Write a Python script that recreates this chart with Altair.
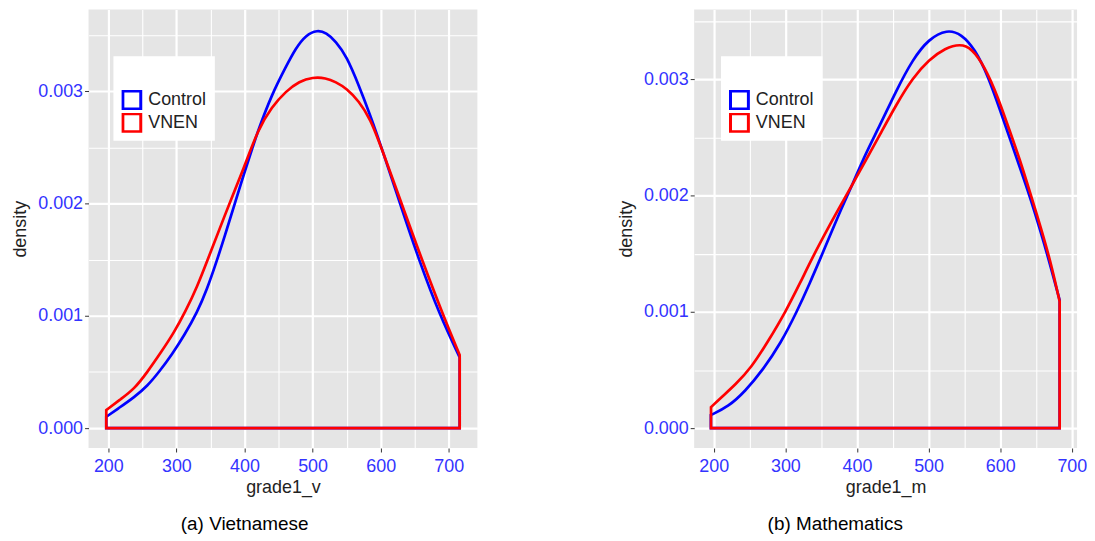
import altair as alt
import pandas as pd

# ---------------- data ----------------
groups = ["Control", "VNEN"]
colors = ["#0000ff", "#ff0000"]

# (a) Vietnamese  (density values in units of 1e-3)
viet_ctrl_x = [197, 213.6, 238, 257.5, 274.6, 294, 311, 330.6, 345.2, 358.9, 372, 382.7, 400, 412, 420,
               440, 461, 475, 490, 507, 520, 534, 550, 568, 585, 600, 632, 656, 687, 716]
viet_ctrl_d = [0.10, 0.171, 0.274, 0.376, 0.50, 0.66, 0.82, 1.03, 1.24, 1.48, 1.73, 1.94, 2.28, 2.50, 2.65,
               2.97, 3.22, 3.38, 3.50, 3.545, 3.52, 3.445, 3.31, 3.05, 2.78, 2.52, 1.935, 1.50, 1.00, 0.63]
viet_vnen_x = [197, 218.5, 238, 257.5, 277, 296.5, 313.5, 330.6, 346, 370, 400, 420, 440, 461, 480.5,
               500, 519.5, 534, 550, 568, 585, 600, 636.6, 660.5, 692, 716]
viet_vnen_d = [0.16, 0.259, 0.347, 0.50, 0.671, 0.85, 1.04, 1.26, 1.50, 1.88, 2.33, 2.66, 2.86, 3.00,
               3.088, 3.124, 3.118, 3.082, 3.024, 2.912, 2.75, 2.515, 1.90, 1.50, 1.00, 0.65]

# (b) Mathematics
math_ctrl_x = [196, 220.7, 243.5, 268.5, 293.5, 316, 334.4, 350.3, 364, 377.5, 394, 412, 431.7, 454.6,
               477.5, 500.5, 525.7, 546, 564.7, 583, 600, 613, 627, 641, 656, 670, 683]
math_ctrl_d = [0.112, 0.186, 0.314, 0.50, 0.729, 1.00, 1.25, 1.48, 1.68, 1.88, 2.10, 2.36, 2.60, 2.90,
               3.17, 3.35, 3.43, 3.39, 3.26, 3.03, 2.73, 2.50, 2.25, 2.00, 1.70, 1.40, 1.10]
math_vnen_x = [196.2, 211.6, 229.8, 252.5, 275.3, 300.3, 320.7, 338.9, 357, 373, 394, 412, 431.7, 454.6,
               477.5, 500.5, 523.4, 544, 560, 578.4, 596.8, 613, 627, 643, 656, 670, 683]
math_vnen_d = [0.18, 0.271, 0.371, 0.52, 0.74, 1.00, 1.25, 1.48, 1.69, 1.871, 2.10, 2.30, 2.52, 2.78,
               3.01, 3.17, 3.27, 3.305, 3.27, 3.11, 2.85, 2.56, 2.32, 2.00, 1.74, 1.44, 1.09]

x_ticks = [200, 250, 300, 350, 400, 450, 500, 550, 600, 650, 700]
y_ticks = [0, 0.0005, 0.001, 0.0015, 0.002, 0.0025, 0.003, 0.0035]

FONT = "Liberation Sans"
LABEL_COLOR = "#3333ff"
TITLE_COLOR = "#222222"


def frame(xs_c, ds_c, xs_v, ds_v):
    rows = []
    for x, d in zip(xs_c, ds_c):
        rows.append({"x": x, "d": d / 1000.0, "group": groups[0]})
    for x, d in zip(xs_v, ds_v):
        rows.append({"x": x, "d": d / 1000.0, "group": groups[1]})
    return pd.DataFrame(rows)


def panel(df, xtitle, caption, xdom, ydom, w, h, lx, ly, cap_dx):
    x_axis = alt.Axis(
        values=x_ticks, title=xtitle, domain=False,
        labelExpr="datum.value % 100 == 0 ? datum.label : ''",
        gridColor="white",
        gridWidth={"condition": {"test": "datum.value % 100 == 0", "value": 2.2}, "value": 1.1},
        tickColor={"condition": {"test": "datum.value % 100 == 0", "value": "#333333"}, "value": "transparent"},
        tickSize=4, tickWidth=1,
        labelFont=FONT, labelFontSize=18, labelColor=LABEL_COLOR, labelPadding=6,
        titleFont=FONT, titleFontSize=18, titleColor=TITLE_COLOR, titleFontWeight="normal", titlePadding=3,
    )
    y_axis = alt.Axis(
        values=y_ticks, title="density", domain=False, format=".3f",
        labelExpr="round(datum.value * 10000) % 10 == 0 ? datum.label : ''",
        gridColor="white",
        gridWidth={"condition": {"test": "round(datum.value * 10000) % 10 == 0", "value": 2.2}, "value": 1.1},
        tickColor={"condition": {"test": "round(datum.value * 10000) % 10 == 0", "value": "#333333"},
                   "value": "transparent"},
        tickSize=4, tickWidth=1,
        labelFont=FONT, labelFontSize=18, labelColor=LABEL_COLOR, labelPadding=2,
        titleFont=FONT, titleFontSize=18, titleColor=TITLE_COLOR, titleFontWeight="normal", titlePadding=8,
    )
    legend = alt.Legend(
        orient="none", legendX=lx, legendY=ly, title=" ", titleFontSize=18, titlePadding=8,
        fillColor="white", padding=8, symbolType="square", symbolSize=324, symbolStrokeWidth=3,
        symbolFillColor="#ececec", labelFont=FONT, labelFontSize=18, labelColor=TITLE_COLOR,
        labelOffset=6, rowPadding=3, clipHeight=20,
    )
    return alt.Chart(df).mark_area(
        interpolate="basis", fill="transparent", strokeWidth=2.7
    ).encode(
        x=alt.X("x:Q", scale=alt.Scale(domain=xdom, nice=False, zero=False), axis=x_axis),
        y=alt.Y("d:Q", scale=alt.Scale(domain=ydom, nice=False), axis=y_axis, stack=False),
        y2=alt.datum(0),
        stroke=alt.Stroke("group:N", scale=alt.Scale(domain=groups, range=colors), legend=legend),
    ).properties(
        width=w, height=h,
        title=alt.TitleParams(text=caption, orient="bottom", anchor="middle", frame="bounds",
                              font=FONT, fontSize=19, fontWeight="normal", color="black",
                              offset=18, dx=cap_dx),
    )


left = panel(frame(viet_ctrl_x, viet_ctrl_d, viet_vnen_x, viet_vnen_d), "grade1_v", "(a) Vietnamese",
             [171, 742], [-0.0001775, 0.0037275], 391, 441, 25, 47, 0)
right = panel(frame(math_ctrl_x, math_ctrl_d, math_vnen_x, math_vnen_d), "grade1_m", "(b) Mathematics",
              [172.7, 707.3], [-0.0001715, 0.0036015], 385, 441, 27, 47, -17)

chart = alt.hconcat(left, right, spacing=140).resolve_scale(
    stroke="independent", x="independent", y="independent"
).resolve_legend(stroke="independent").properties(
    padding={"left": 3, "top": 0, "right": 0, "bottom": 0}
).configure_view(fill="#e5e5e5", strokeWidth=0)

chart.save("out.html", embed_options={"renderer": "svg", "actions": False})
